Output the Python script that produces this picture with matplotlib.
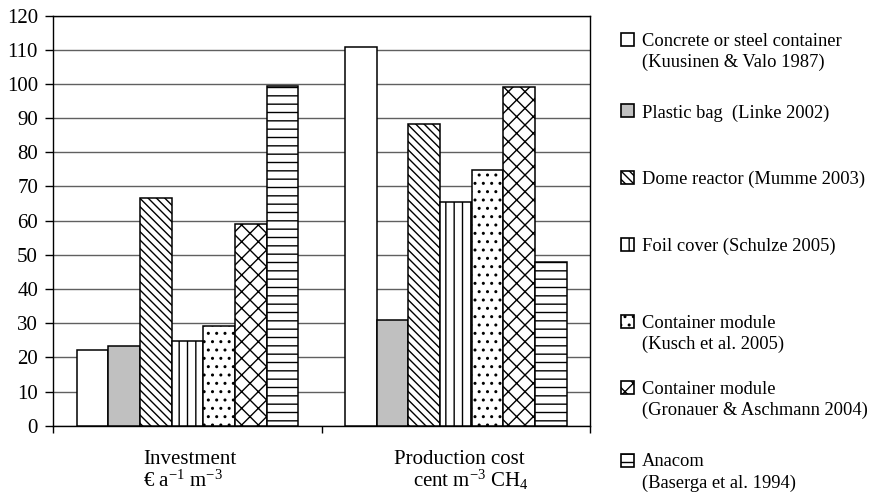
import matplotlib
matplotlib.use('Agg')
import matplotlib.pyplot as plt
import numpy as np
from matplotlib.patches import Rectangle

plt.rcParams.update({
    'font.family': 'Liberation Serif',
    'mathtext.fontset': 'custom',
    'mathtext.rm': 'Liberation Serif',
    'mathtext.it': 'Liberation Serif',
    'hatch.linewidth': 1.0,
})

# ---- data ----
categories = ['Investment', 'Production cost']
units = [r'€ a$^{-1}$ m$^{-3}$', r'cent m$^{-3}$ CH$_4$']
series = [
    'Concrete or steel container\n(Kuusinen & Valo 1987)',
    'Plastic bag  (Linke 2002)',
    'Dome reactor (Mumme 2003)',
    'Foil cover (Schulze 2005)',
    'Container module\n(Kusch et al. 2005)',
    'Container module\n(Gronauer & Aschmann 2004)',
    'Anacom\n(Baserga et al. 1994)',
]
investment = [22.2, 23.3, 66.7, 24.9, 29.1, 58.9, 99.4]
production = [110.7, 31.0, 88.4, 65.4, 74.7, 99.0, 47.8]

# ---- styles ----
faces   = ['white', '#c0c0c0', 'white', 'white', 'white', 'white', 'white']
hatches = [None, None, '\\\\\\\\', '||', '..', 'xx', '--']
FW, FH = 873, 493

fig = plt.figure(figsize=(FW / 100, FH / 100), dpi=100)
ax = fig.add_axes([53.3 / FW, 1 - 425.7 / FH, (590 - 53.3) / FW, (425.7 - 15.6) / FH])

x = np.arange(len(categories))
width = 0.118
values = np.array([investment, production])  # shape (2, 7)
for i in range(len(series)):
    ax.bar(x + (i - 3) * width, values[:, i], width, facecolor=faces[i],
           edgecolor='black', hatch=hatches[i], linewidth=1.1, zorder=3)

ax.set_xlim(-0.5, 1.5)
ax.set_ylim(0, 120)
ax.set_yticks(np.arange(0, 121, 10))
ax.set_xticks([-0.5, 0.5, 1.5])
ax.set_xticklabels([])
ax.tick_params(axis='y', direction='out', length=6, width=1, labelsize=15, pad=5)
ax.tick_params(axis='x', direction='out', length=5, width=1)
ax.yaxis.grid(True, color='#606060', linewidth=1.0)
ax.set_axisbelow(True)
for s in ax.spines.values():
    s.set_linewidth(1.0)
    s.set_color('black')

def fx(px):
    return px / FW

def fy(py):
    return 1 - py / FH

# category labels below the axis
fig.text(fx(190), fy(464), categories[0], fontsize=15, ha='center', va='baseline')
fig.text(fx(143), fy(487), units[0], fontsize=15, ha='left', va='baseline')
fig.text(fx(459), fy(464), categories[1], fontsize=15, ha='center', va='baseline')
fig.text(fx(413), fy(487), units[1], fontsize=15, ha='left', va='baseline')

# legend on the right
leg_y = [39.5, 111, 177, 244, 321, 387, 460]
for i, lab in enumerate(series):
    r = Rectangle((fx(621), fy(leg_y[i] + 6.5)), 13 / FW, 13 / FH, transform=fig.transFigure,
                  facecolor=faces[i], edgecolor='black', hatch=hatches[i], linewidth=1.2)
    fig.patches.append(r)
    for k, line in enumerate(lab.split('\n')):
        fig.text(fx(642), fy(leg_y[i] + 6.5 + 21 * k), line, fontsize=13.3,
                 ha='left', va='baseline')

fig.savefig('out.png', dpi=100)
